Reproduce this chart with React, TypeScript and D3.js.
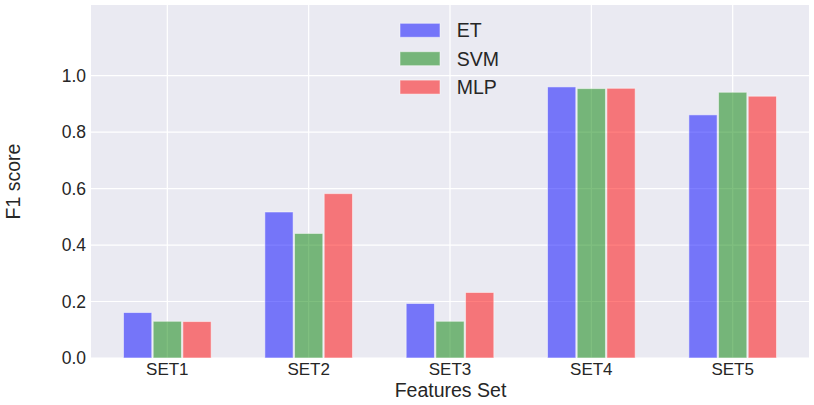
import React from 'react';
import * as d3 from 'd3';

const categories = ['SET1', 'SET2', 'SET3', 'SET4', 'SET5'];
const seriesNames = ['ET', 'SVM', 'MLP'];
const etValues = [0.161, 0.517, 0.193, 0.96, 0.861];
const svmValues = [0.13, 0.441, 0.13, 0.954, 0.941];
const mlpValues = [0.129, 0.582, 0.232, 0.955, 0.927];
const yTicks = [0, 0.2, 0.4, 0.6, 0.8, 1.0];

const colors = ['#0000ff', '#008000', '#ff0000'];
const font = 'Arial, "Liberation Sans", Helvetica, sans-serif';
const ink = '#262626';

const W = 814;
const H = 405;
const plot = { left: 91, right: 809, top: 5, bottom: 358 };

const App: React.FC = () => {
  const series = [etValues, svmValues, mlpValues];

  const x = d3.scaleLinear().domain([-0.54, 4.54]).range([plot.left, plot.right]);
  const y = d3.scaleLinear().domain([0, 1.25]).range([plot.bottom, plot.top]);
  const barW = x(0.2) - x(0);
  const offset = 0.21;

  return (
    <svg width={W} height={H} style={{ display: 'block', position: 'absolute', left: 0, top: 0 }}>
      <rect x={0} y={0} width={W} height={H} fill="#ffffff" />
      <rect
        x={plot.left}
        y={plot.top}
        width={plot.right - plot.left}
        height={plot.bottom - plot.top}
        fill="#eaeaf2"
      />

      {/* grid */}
      {yTicks.map(t => (
        <line key={'gy' + t} x1={plot.left} x2={plot.right} y1={y(t)} y2={y(t)} stroke="#fff" strokeWidth={1.2} />
      ))}
      {categories.map((c, i) => (
        <line key={'gx' + c} x1={x(i)} x2={x(i)} y1={plot.top} y2={plot.bottom} stroke="#fff" strokeWidth={1.2} />
      ))}

      {/* bars */}
      {series.map((vals, s) => (
        <g key={seriesNames[s]}>
          {vals.map((v, i) => {
            const cx = x(i + (s - 1) * offset);
            return (
              <rect
                key={categories[i]}
                x={cx - barW / 2}
                y={y(v)}
                width={barW}
                height={y(0) - y(v)}
                fill={colors[s]}
                fillOpacity={0.5}
                stroke="#ffffff"
                strokeOpacity={0.5}
                strokeWidth={1}
              />
            );
          })}
        </g>
      ))}

      {/* y tick labels */}
      {yTicks.map(t => (
        <text
          key={'ty' + t}
          x={plot.left - 5}
          y={y(t)}
          dy="0.35em"
          textAnchor="end"
          fontFamily={font}
          fontSize={17.5}
          fill={ink}
        >
          {d3.format('.1f')(t)}
        </text>
      ))}

      {/* x tick labels */}
      {categories.map((c, i) => (
        <text
          key={'tx' + c}
          x={x(i)}
          y={375.2}
          textAnchor="middle"
          fontFamily={font}
          fontSize={17}
          fill={ink}
        >
          {c}
        </text>
      ))}

      {/* axis labels */}
      <text x={450.5} y={396.5} textAnchor="middle" fontFamily={font} fontSize={19.5} fill={ink}>
        Features Set
      </text>
      <text
        transform={`translate(19.5, ${(plot.top + plot.bottom) / 2}) rotate(-90)`}
        textAnchor="middle"
        fontFamily={font}
        fontSize={19.5}
        fill={ink}
      >
        F1 score
      </text>

      {/* legend */}
      {seriesNames.map((n, s) => (
        <g key={'lg' + n} transform={`translate(400, ${23.3 + s * 28.4})`}>
          <rect width={40} height={14} fill={colors[s]} fillOpacity={0.5} stroke="#fff" strokeOpacity={0.5} />
          <text x={56.7} y={14} fontFamily={font} fontSize={19.5} fill={ink}>
            {n}
          </text>
        </g>
      ))}
    </svg>
  );
};

export default App;
